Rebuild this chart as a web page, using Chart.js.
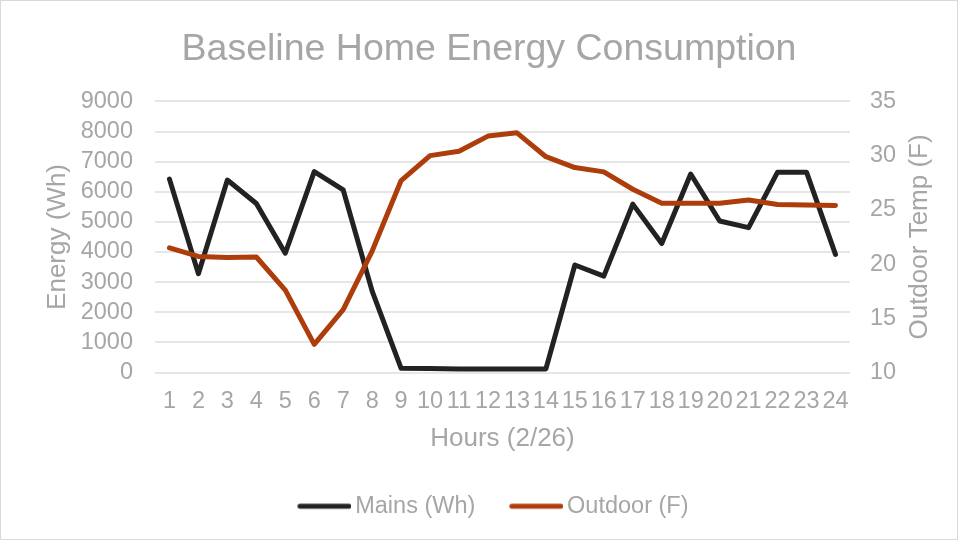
<!DOCTYPE html>
<html>
<head>
<meta charset="utf-8">
<script src="https://cdn.jsdelivr.net/npm/chart.js@4/dist/chart.umd.min.js"></script>
<style>
    html, body { margin: 0; padding: 0; background: #fff; }
    #wrap { position: relative; width: 958px; height: 540px; box-sizing: border-box; border: 1px solid #d9d9d9; }
</style>
</head>
<body>
<div id="wrap"><canvas id="myChart" width="956" height="538" style="width:956px;height:538px"></canvas></div>
<script>
var hours = ["1","2","3","4","5","6","7","8","9","10","11","12","13","14","15","16","17","18","19","20","21","22","23","24"];
var mainsWh = [6420, 3280, 6390, 5610, 3960, 6670, 6060, 2700, 140, 130, 120, 120, 120, 120, 3570, 3200, 5590, 4280, 6590, 5030, 4810, 6650, 6650, 3920];
var outdoorF = [21.5, 20.7, 20.6, 20.65, 17.6, 12.6, 15.8, 21.2, 27.7, 30.0, 30.4, 31.8, 32.1, 29.9, 28.9, 28.5, 26.9, 25.6, 25.6, 25.6, 25.9, 25.5, 25.45, 25.4];

var grey = "#a6a6a6";
var fontFam = "'Liberation Sans', Arial, sans-serif";
var rightTitle = "Outdoor Temp (F)";
var mainsColor = "#222222";
var outdoorColor = "#ae3d0c";

document.addEventListener("DOMContentLoaded", function(){
    initChart();
});

// chart.js turns a right axis title the other way, so draw it ourselves
var rightTitlePlugin = {
    id: 'rightTitle',
    afterDraw: function(chart){
        let s = chart.scales.y1;
        let ctx = chart.ctx;
        ctx.save();
        ctx.translate(s.right - 4 - 15.6, (s.top + s.bottom) / 2);
        ctx.rotate(-Math.PI / 2);
        ctx.fillStyle = grey;
        ctx.font = "26px " + fontFam;
        ctx.textAlign = "center";
        ctx.textBaseline = "middle";
        ctx.fillText(rightTitle, 0, 0);
        ctx.restore();
    }
};

// legend swatch: line pushed to the right so it sits close to the text
function legendLine(color){
    let c = document.createElement("canvas");
    c.width = 70;
    c.height = 10;
    let g = c.getContext("2d");
    g.strokeStyle = color;
    g.lineWidth = 5;
    g.lineCap = "round";
    g.beginPath();
    g.moveTo(16 + 2.5, 5);
    g.lineTo(70 - 2.5, 5);
    g.stroke();
    return c;
}

function plainNum(v){
    return String(v);
}

function initChart(){
    const ctx = document.getElementById('myChart').getContext('2d');
    new Chart(ctx, {
        type: 'line',
        data: {
            labels: hours,
            datasets: [{
                label: 'Mains (Wh)',
                data: mainsWh,
                borderColor: mainsColor,
                backgroundColor: mainsColor,
                borderWidth: 5,
                borderCapStyle: 'round',
                borderJoinStyle: 'round',
                pointRadius: 0,
                pointStyle: legendLine(mainsColor),
                yAxisID: 'y',
                order: 2
            }, {
                label: 'Outdoor (F)',
                data: outdoorF,
                borderColor: outdoorColor,
                backgroundColor: outdoorColor,
                borderWidth: 5,
                borderCapStyle: 'round',
                borderJoinStyle: 'round',
                pointRadius: 0,
                pointStyle: legendLine(outdoorColor),
                yAxisID: 'y1',
                order: 1
            }]
        },
        options: {
            responsive: false,
            animation: false,
            layout: { padding: { left: 37.4, right: 17.4, top: 6, bottom: 11 } },
            plugins: {
                title: {
                    display: true,
                    text: 'Baseline Home Energy Consumption',
                    color: grey,
                    font: { family: fontFam, size: 37.5, weight: 'normal' },
                    padding: { top: 20, bottom: 29.4 }
                },
                legend: {
                    position: 'bottom',
                    labels: {
                        color: grey,
                        font: { family: fontFam, size: 23.5 },
                        usePointStyle: true,
                        pointStyleWidth: 54,
                        padding: 26,
                        sort: function(a, b){ return a.datasetIndex - b.datasetIndex; }
                    }
                },
                tooltip: { enabled: false }
            },
            scales: {
                x: {
                    offset: true,
                    grid: { display: false, drawTicks: false },
                    border: { display: false },
                    ticks: {
                        color: grey,
                        font: { family: fontFam, size: 23.5 },
                        autoSkip: false,
                        maxRotation: 0,
                        minRotation: 0,
                        padding: 15
                    },
                    title: {
                        display: true,
                        text: 'Hours (2/26)',
                        color: grey,
                        font: { family: fontFam, size: 26 },
                        padding: { top: -7.8, bottom: 14.4 }
                    }
                },
                y: {
                    position: 'left',
                    min: 0,
                    max: 9000,
                    grid: { color: '#e6e6e6', lineWidth: 2, drawTicks: false },
                    border: { display: false },
                    ticks: {
                        stepSize: 1000,
                        autoSkip: false,
                        color: grey,
                        font: { family: fontFam, size: 23.5 },
                        padding: 22,
                        callback: plainNum
                    },
                    title: {
                        display: true,
                        text: 'Energy (Wh)',
                        color: grey,
                        font: { family: fontFam, size: 26 },
                        padding: { top: 4, bottom: -14.9 }
                    }
                },
                y1: {
                    position: 'right',
                    min: 10,
                    max: 35,
                    grid: { display: false, drawTicks: false },
                    border: { display: false },
                    ticks: {
                        stepSize: 5,
                        autoSkip: false,
                        color: grey,
                        font: { family: fontFam, size: 23.5 },
                        padding: 20,
                        callback: plainNum
                    },
                    title: {
                        display: true,
                        text: rightTitle,
                        color: 'rgba(0,0,0,0)',
                        font: { family: fontFam, size: 26 },
                        padding: { top: 4, bottom: -11.7 }
                    }
                }
            }
        },
        plugins: [rightTitlePlugin]
    });
}
</script>
</body>
</html>
